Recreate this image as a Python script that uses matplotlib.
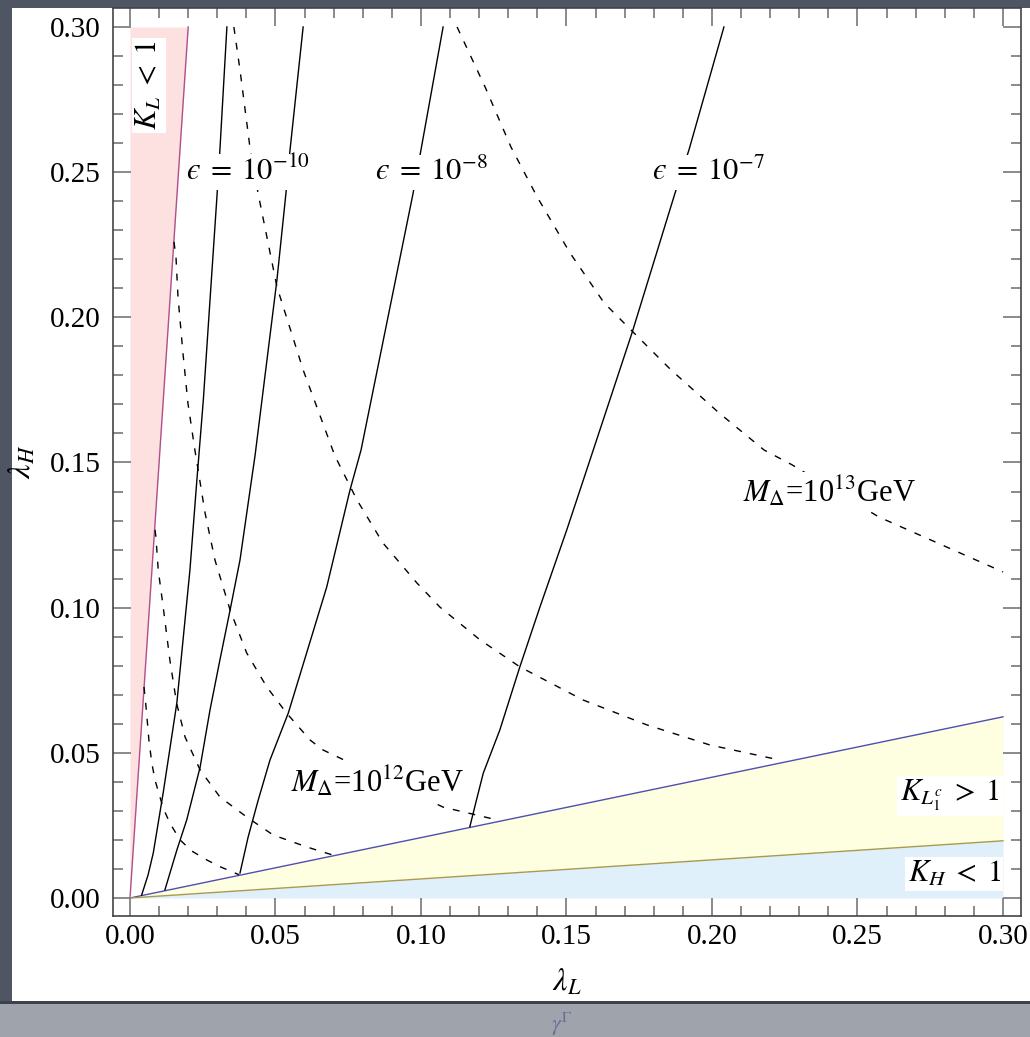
import numpy as np
import matplotlib.pyplot as plt
from matplotlib.patches import Rectangle

plt.rcParams['font.family'] = ['Liberation Serif', 'DejaVu Serif']
plt.rcParams['mathtext.fontset'] = 'stix'

# region boundaries (lambda_L, lambda_H)
kl_L = [0.0, 0.02]
kl_H = [0.0, 0.30]
klc_L = [0.0, 0.30]
klc_H = [0.0, 0.0624]
kh_L = [0.0, 0.30]
kh_H = [0.0, 0.0197]

# epsilon contours (solid)
eps10_L = [0.0040, 0.0062, 0.0080, 0.0114, 0.0138, 0.0161, 0.0206, 0.0229, 0.0252, 0.0275, 0.0298, 0.0309, 0.0333]
eps10_H = [0.0010, 0.0079, 0.0155, 0.0362, 0.0520, 0.0672, 0.1130, 0.1429, 0.1715, 0.2060, 0.2404, 0.2577, 0.3000]
eps9_L = [0.0120, 0.0161, 0.0195, 0.0241, 0.0275, 0.0309, 0.0344, 0.0378, 0.0430, 0.0505, 0.0536, 0.0550, 0.0595]
eps9_H = [0.0028, 0.0165, 0.0269, 0.0451, 0.0648, 0.0820, 0.0992, 0.1164, 0.1526, 0.2129, 0.2428, 0.2577, 0.3000]
eps8_L = [0.0378, 0.0406, 0.0440, 0.0481, 0.0544, 0.0607, 0.0676, 0.0756, 0.0794, 0.0973, 0.1000, 0.1076]
eps8_H = [0.0086, 0.0210, 0.0335, 0.0475, 0.0637, 0.0844, 0.1071, 0.1405, 0.1543, 0.2428, 0.2577, 0.3000]
eps7_L = [0.1168, 0.1190, 0.1214, 0.1271, 0.1340, 0.1409, 0.1501, 0.1558, 0.1725, 0.1873, 0.1921, 0.2041]
eps7_H = [0.0246, 0.0335, 0.0430, 0.0579, 0.0797, 0.1003, 0.1268, 0.1440, 0.1946, 0.2428, 0.2577, 0.3000]

# M_Delta contours (dashed)
m11_L = [0.0048, 0.0052, 0.0057, 0.0065, 0.0075, 0.0086, 0.0114, 0.0137, 0.0172, 0.0212, 0.0264, 0.0309, 0.0375]
m11_H = [0.0727, 0.0692, 0.0637, 0.0544, 0.0465, 0.0406, 0.0310, 0.0258, 0.0200, 0.0162, 0.0131, 0.0108, 0.0080]
m115_L = [0.0086, 0.0089, 0.0097, 0.0114, 0.0137, 0.0160, 0.0189, 0.0241, 0.0309, 0.0401, 0.0492, 0.0607, 0.0664, 0.0704]
m115_H = [0.1268, 0.1244, 0.1130, 0.1003, 0.0820, 0.0672, 0.0555, 0.0441, 0.0348, 0.0279, 0.0217, 0.0176, 0.0158, 0.0146]
m12_L = [0.0151, 0.0158, 0.0165, 0.0182, 0.0199, 0.0223, 0.0258, 0.0292, 0.0344, 0.0401, 0.0470, 0.0538, 0.0619, 0.0663, 0.1076, 0.1261]
m12_H = [0.2260, 0.2208, 0.2070, 0.1877, 0.1705, 0.1543, 0.1326, 0.1164, 0.0992, 0.0844, 0.0727, 0.0637, 0.0544, 0.0510, 0.0313, 0.0269]
m125_L = [0.0357, 0.0378, 0.0412, 0.0440, 0.0505, 0.0595, 0.0704, 0.0780, 0.0869, 0.0986, 0.1065, 0.1203, 0.1340, 0.1557, 0.1777, 0.1993, 0.2234]
m125_H = [0.3000, 0.2852, 0.2587, 0.2428, 0.2105, 0.1819, 0.1523, 0.1371, 0.1223, 0.1085, 0.1002, 0.0889, 0.0796, 0.0682, 0.0596, 0.0527, 0.0475]
m13_L = [0.1124, 0.1220, 0.1309, 0.1399, 0.1512, 0.1629, 0.1732, 0.1859, 0.2024, 0.2179, 0.2275, 0.2574, 0.3000]
m13_H = [0.3000, 0.2794, 0.2587, 0.2415, 0.2222, 0.2050, 0.1946, 0.1819, 0.1671, 0.1543, 0.1492, 0.1312, 0.1123]

fig = plt.figure(figsize=(10.30, 10.37), dpi=100, facecolor='#4f5562')

# slide background pieces
fig.patches.append(Rectangle((12/1030, 1-1001/1037), 1018/1030, 993/1037, transform=fig.transFigure,
                             facecolor='white', edgecolor='none', zorder=-10))
fig.patches.append(Rectangle((0, 0), 1, 1-1004/1037, transform=fig.transFigure,
                             facecolor='#9fa3ab', edgecolor='none', zorder=-9))
fig.patches.append(Rectangle((0, 1-1004/1037), 1, 3/1037, transform=fig.transFigure,
                             facecolor='#3c414c', edgecolor='none', zorder=-9))
fig.text(0.545, 0.006, r'$\gamma^{\Gamma}$', fontsize=16, color='#5a6290', alpha=0.8, ha='center')

ax = fig.add_axes([113/1030, 1-916/1037, 908/1030, 908/1037])
ax.set_facecolor('white')

# shaded regions
ax.fill_betweenx(kl_H, 0, kl_L, color='#fde0e0', lw=0, zorder=1)
ax.fill_between(klc_L, kh_H, klc_H, color='#fefee0', lw=0, zorder=1)
ax.fill_between(kh_L, 0, kh_H, color='#dff0fb', lw=0, zorder=1)
ax.plot(kl_L, kl_H, color='#b0508a', lw=1.0, zorder=2)
ax.plot(klc_L, klc_H, color='#4f4fb0', lw=1.0, zorder=2)
ax.plot(kh_L, kh_H, color='#a89a50', lw=1.0, zorder=2)

for xs, ys in [(eps10_L, eps10_H), (eps9_L, eps9_H), (eps8_L, eps8_H), (eps7_L, eps7_H)]:
    ax.plot(xs, ys, color='black', lw=1.0, zorder=3, solid_joinstyle='round')
for xs, ys in [(m11_L, m11_H), (m115_L, m115_H), (m12_L, m12_H), (m125_L, m125_H), (m13_L, m13_H)]:
    ax.plot(xs, ys, color='black', lw=1.0, ls=(0, (5, 6.5)), zorder=3)

box = dict(facecolor='white', edgecolor='none', pad=2)
kw = dict(fontsize=22, ha='center', va='center', zorder=6, bbox=box)
ax.text(0.0405, 0.2500, r'$ϵ\;=\;10^{-10}$', **kw)
ax.text(0.1034, 0.2500, r'$ϵ\;=\;10^{-8}$', **kw)
ax.text(0.1986, 0.2500, r'$ϵ\;=\;10^{-7}$', **kw)
ax.text(0.0852, 0.0400, r'$M_{\Delta}$=10$^{12}$GeV', **kw)
ax.text(0.2405, 0.1400, r'$M_{\Delta}$=10$^{13}$GeV', **kw)
ax.text(0.0065, 0.2800, r'$K_L\;<\;1$', rotation=90, **kw)
ax.text(0.2818, 0.0352, r'$K_{L_1^c}\;>\;1$', **kw)
ax.text(0.2832, 0.0083, r'$K_H\;<\;1$', **kw)

ax.set_xlim(-0.00584, 0.30619)
ax.set_ylim(-0.0062, 0.30654)
ticks = np.arange(0, 0.301, 0.05)
ax.set_xticks(ticks)
ax.set_yticks(ticks)
ax.set_xticklabels(['%.2f' % t for t in ticks])
ax.set_yticklabels(['%.2f' % t for t in ticks])
ax.set_xticks(np.arange(0, 0.301, 0.01), minor=True)
ax.set_yticks(np.arange(0, 0.301, 0.01), minor=True)
ax.tick_params(which='both', direction='in', top=True, right=True, color='#777777', width=1.2, labelsize=21)
ax.tick_params(which='major', length=13)
ax.tick_params(which='minor', length=7)
ax.tick_params(axis='x', pad=6)
ax.tick_params(axis='y', pad=9)
for s in ax.spines.values():
    s.set_color('#444444')
    s.set_linewidth(1.2)

ax.set_xlabel(r'$\lambda_L$', fontsize=23)
ax.set_ylabel(r'$\lambda_H$', fontsize=23)
ax.xaxis.set_label_coords(0.5, -0.057)
ax.yaxis.set_label_coords(-0.083, 0.5)

fig.savefig('out.png', dpi=100, facecolor=fig.get_facecolor())
